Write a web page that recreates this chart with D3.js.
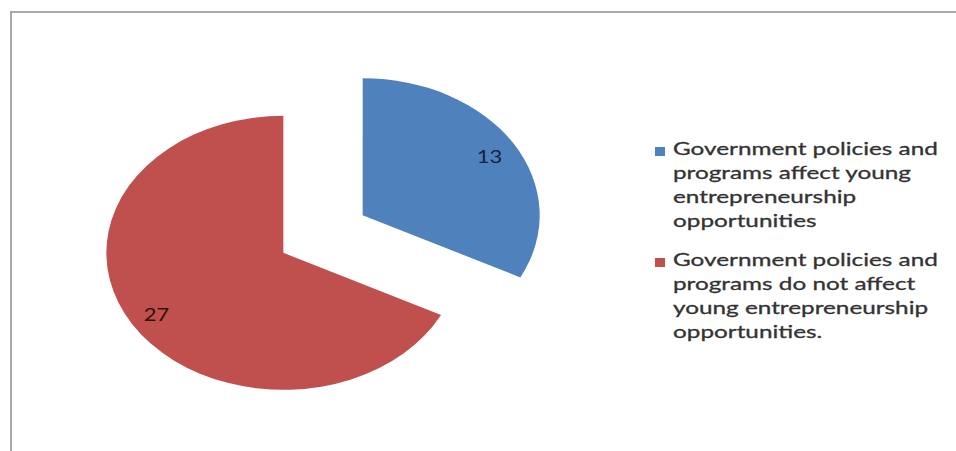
<!DOCTYPE html>
<html>
<head>
<meta charset="utf-8">
<script src="https://cdn.jsdelivr.net/npm/d3@7"></script>
<style>
  html, body { margin: 0; padding: 0; background: #fff; }
  svg { display: block; }
</style>
</head>
<body>
<svg id="chart"></svg>
<script>
var width = 956;
var height = 451;

// data
var categories = [
    "Government policies and programs affect young entrepreneurship opportunities",
    "Government policies and programs do not affect young entrepreneurship opportunities."
];
var values = [13, 27];
var colors = ["#4f81bd", "#c0504d"];
var labelColors = ["#14213d", "#2e1010"];
// legend text wraps as in the original
var legendLines = [
    ["Government policies and", "programs affect young", "entrepreneurship", "opportunities"],
    ["Government policies and", "programs do not affect", "young entrepreneurship", "opportunities."]
];

// the picture is stretched horizontally, so the pie is drawn as an ellipse
var ry = 137;
var sx = 1.292;
var center = [323, 234];
var explode = 36;

var svg = d3.select("#chart")
    .attr("width", width)
    .attr("height", height);

// chart area frame (right/bottom edges fall outside the picture)
svg.append("rect")
    .attr("x", 11).attr("y", 12)
    .attr("width", 960).attr("height", 460)
    .attr("fill", "none")
    .attr("stroke", "#a9a9a9")
    .attr("stroke-width", 2);

var pie = d3.pie().sort(null).value(function (d) { return d; });
var arcs = pie(values);

var arc = d3.arc().innerRadius(0).outerRadius(ry);

function sliceOrigin(d) {
    var mid = (d.startAngle + d.endAngle) / 2;
    return [center[0] + explode * sx * Math.sin(mid), center[1] - explode * Math.cos(mid)];
}

var slices = svg.append("g").attr("class", "slices")
    .selectAll("g")
    .data(arcs)
    .enter()
    .append("g")
    .attr("transform", function (d) {
        var o = sliceOrigin(d);
        return "translate(" + o[0] + "," + o[1] + ")";
    });

slices.append("path")
    .attr("transform", "scale(" + sx + ",1)")
    .attr("d", arc)
    .attr("fill", function (d, i) { return colors[i]; });

var labelArc = d3.arc().innerRadius(ry * 0.84).outerRadius(ry * 0.84);

slices.append("text")
    .attr("transform", function (d) {
        var c = labelArc.centroid(d);
        return "translate(" + (c[0] * sx) + "," + (c[1] + 2) + ") scale(" + sx + ",1)";
    })
    .attr("text-anchor", "middle")
    .attr("dy", "0.36em")
    .style("font-family", "Lato, 'Noto Sans', sans-serif")
    .style("font-size", "17px")
    .style("fill", function (d, i) { return labelColors[i]; })
    .text(function (d) { return d.data; });

// legend
var legend = svg.append("g").attr("class", "legend");
var entryTop = [148, 259];
var lineStep = 24;

var entries = legend.selectAll("g")
    .data(categories)
    .enter()
    .append("g")
    .attr("transform", function (d, i) { return "translate(0," + entryTop[i] + ")"; });

entries.append("rect")
    .attr("x", 655).attr("y", -1)
    .attr("width", 10).attr("height", 9)
    .attr("fill", function (d, i) { return colors[i]; });

var texts = entries.append("g")
    .attr("class", "legend-text")
    .attr("transform", "translate(673,0)");

texts.selectAll("text")
    .data(function (d, i) { return legendLines[i]; })
    .enter()
    .append("text")
    .attr("y", function (d, j) { return j * lineStep; })
    .attr("dy", "0.4em")
    .style("font-family", "Lato, 'Noto Sans', sans-serif")
    .style("font-size", "17.5px")
    .style("fill", "#333")
    .style("stroke", "#333")
    .style("stroke-width", "0.3px")
    .text(function (d) { return d; });

// stretch legend text the same way the picture is stretched
var firstLine = texts.select("text").node();
var lineScale = 265 / firstLine.getComputedTextLength();
texts.attr("transform", "translate(673,0) scale(" + lineScale + ",1)");
</script>
</body>
</html>
